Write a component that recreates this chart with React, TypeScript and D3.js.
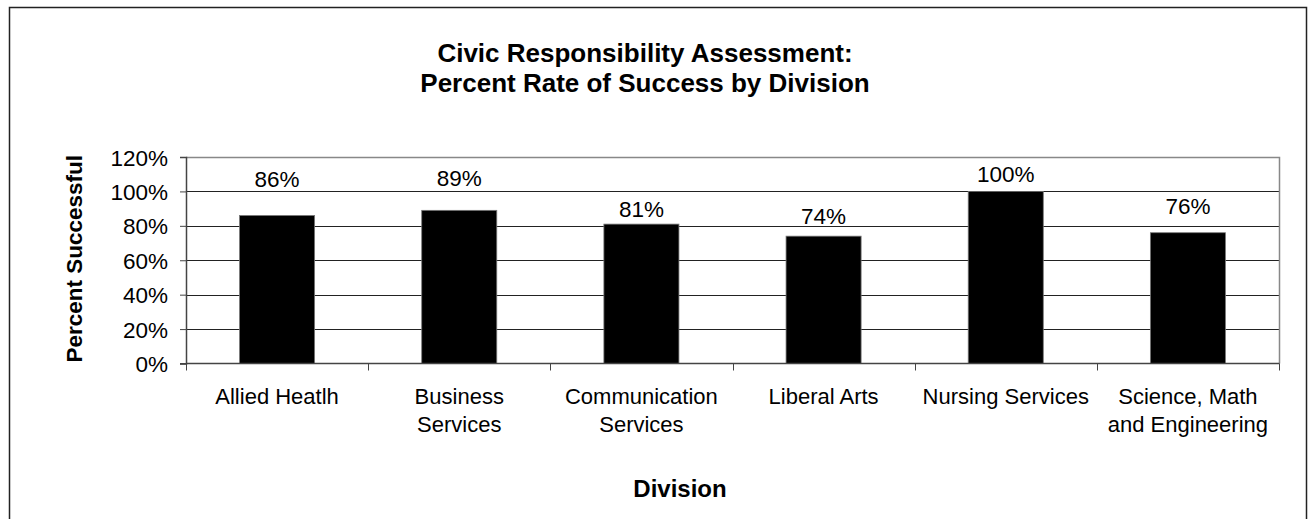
import React, { useEffect, useRef } from "react";
import * as d3 from "d3";

const categories: string[][] = [
  ["Allied Heatlh"],
  ["Business", "Services"],
  ["Communication", "Services"],
  ["Liberal Arts"],
  ["Nursing Services"],
  ["Science, Math", "and Engineering"],
];
const values: number[] = [86, 89, 81, 74, 100, 76];
// where each value label sits (in % units)
const labelAt: number[] = [102.4, 103.1, 85.3, 81.1, 105.6, 86.7];
const yTicks: number[] = [0, 20, 40, 60, 80, 100, 120];
const titleLines: string[] = ["Civic Responsibility Assessment:", "Percent Rate of Success by Division"];
const yTitle = "Percent Successful";
const xTitle = "Division";

const W = 1312;
const H = 519;
const FONT = "Arial, 'Liberation Sans', Helvetica, sans-serif";

export default function App() {
  const ref = useRef<SVGSVGElement | null>(null);

  useEffect(() => {
    const svg = d3.select(ref.current);
    svg.selectAll("*").remove();

    const left = 186, right = 1279, top = 157, bottom = 363.5;

    const x = d3
      .scaleBand<number>()
      .domain(d3.range(values.length))
      .range([left, right])
      .paddingInner(0.588)
      .paddingOuter(0.294);
    const step = (right - left) / values.length;
    const y = d3.scaleLinear().domain([0, 120]).range([bottom, top]);

    svg.append("rect").attr("x", 0).attr("y", 0).attr("width", W).attr("height", H).attr("fill", "#fff");

    // outer border
    svg
      .append("rect")
      .attr("x", 9.5)
      .attr("y", 7.5)
      .attr("width", 1297)
      .attr("height", 530)
      .attr("fill", "none")
      .attr("stroke", "#222")
      .attr("stroke-width", 1.5);

    // gridlines
    svg
      .append("g")
      .selectAll("line")
      .data(yTicks.filter((t) => t > 0 && t < 120))
      .join("line")
      .attr("x1", left)
      .attr("x2", right)
      .attr("y1", (d) => Math.round(y(d)) + 0.5)
      .attr("y2", (d) => Math.round(y(d)) + 0.5)
      .attr("stroke", "#222")
      .attr("stroke-width", 1);

    // plot frame top and right
    svg
      .append("path")
      .attr("d", `M${left},${top + 0.5}H${right + 0.5}V${bottom}`)
      .attr("fill", "none")
      .attr("stroke", "#888")
      .attr("stroke-width", 1.5);

    // bars
    svg
      .append("g")
      .selectAll("rect")
      .data(values)
      .join("rect")
      .attr("x", (_, i) => x(i)!)
      .attr("y", (d) => y(d))
      .attr("width", x.bandwidth())
      .attr("height", (d) => bottom - y(d))
      .attr("fill", "#000")
      .attr("stroke", "#777")
      .attr("stroke-width", 0.8);

    // y axis
    const yAxis = d3
      .axisLeft(y)
      .tickValues(yTicks)
      .tickSize(6)
      .tickPadding(12)
      .tickFormat((d) => `${d}%`);
    const gy = svg.append("g").attr("transform", `translate(${left},0)`).call(yAxis);
    gy.select(".domain").attr("stroke", "#444").attr("stroke-width", 1.5);
    gy.selectAll(".tick line").attr("stroke", "#444");
    gy.selectAll("text")
      .attr("font-family", FONT)
      .attr("font-size", 22.5)
      .attr("fill", "#000")
      .attr("dy", "0.36em");

    // x axis line + ticks at boundaries
    svg
      .append("line")
      .attr("x1", left)
      .attr("x2", right + 0.5)
      .attr("y1", bottom)
      .attr("y2", bottom)
      .attr("stroke", "#444")
      .attr("stroke-width", 1.5);
    svg
      .append("g")
      .selectAll("line")
      .data(d3.range(values.length + 1))
      .join("line")
      .attr("x1", (i) => Math.round(left + i * step) + 0.5)
      .attr("x2", (i) => Math.round(left + i * step) + 0.5)
      .attr("y1", bottom)
      .attr("y2", bottom + 7)
      .attr("stroke", "#444");
    svg
      .append("line")
      .attr("x1", left - 6)
      .attr("x2", left)
      .attr("y1", bottom)
      .attr("y2", bottom)
      .attr("stroke", "#444");

    // category labels
    const cat = svg
      .append("g")
      .selectAll("text")
      .data(categories)
      .join("text")
      .attr("font-family", FONT)
      .attr("font-size", 22)
      .attr("text-anchor", "middle")
      .attr("fill", "#000");
    cat
      .selectAll("tspan")
      .data((d, i) => d.map((s) => ({ s, i })))
      .join("tspan")
      .attr("x", (d) => x(d.i)! + x.bandwidth() / 2)
      .attr("y", (_, j) => 403.5 + j * 28.5)
      .text((d) => d.s);

    // value labels
    svg
      .append("g")
      .selectAll("text")
      .data(values)
      .join("text")
      .attr("x", (_, i) => x(i)! + x.bandwidth() / 2)
      .attr("y", (_, i) => y(labelAt[i]))
      .attr("font-family", FONT)
      .attr("font-size", 22.5)
      .attr("text-anchor", "middle")
      .attr("fill", "#000")
      .text((d) => `${d}%`);

    // title
    svg
      .append("g")
      .selectAll("text")
      .data(titleLines)
      .join("text")
      .attr("x", 645)
      .attr("y", (_, i) => 62 + i * 30)
      .attr("font-family", FONT)
      .attr("font-size", 26)
      .attr("font-weight", "bold")
      .attr("text-anchor", "middle")
      .attr("fill", "#000")
      .text((d) => d);

    // axis titles
    svg
      .append("text")
      .attr("transform", `translate(82,${(top + bottom) / 2 - 1.5}) rotate(-90)`)
      .attr("font-family", FONT)
      .attr("font-size", 22.5)
      .attr("font-weight", "bold")
      .attr("text-anchor", "middle")
      .attr("fill", "#000")
      .text(yTitle);
    svg
      .append("text")
      .attr("x", 680)
      .attr("y", 497)
      .attr("font-family", FONT)
      .attr("font-size", 24)
      .attr("font-weight", "bold")
      .attr("text-anchor", "middle")
      .attr("fill", "#000")
      .text(xTitle);
  }, []);

  return (
    <svg
      ref={ref}
      width={W}
      height={H}
      style={{ position: "absolute", left: 0, top: 0, display: "block" }}
    />
  );
}
